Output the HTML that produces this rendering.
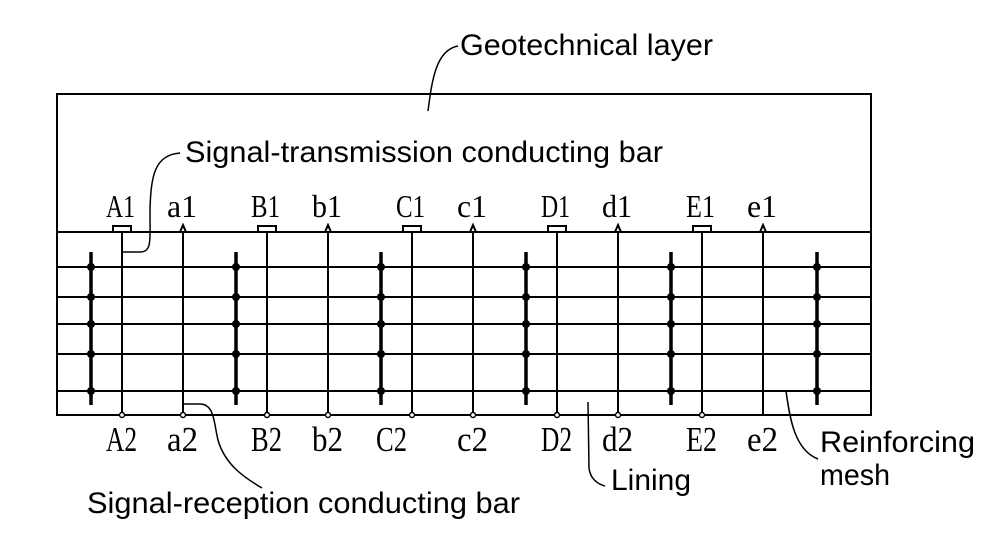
<!DOCTYPE html>
<html><head><meta charset="utf-8"><style>
html,body{margin:0;padding:0;background:#fff;}
svg{display:block;}
.s{font-family:"Liberation Sans",sans-serif;font-size:30px;fill:#000;}
.r{font-family:"Liberation Serif",serif;font-size:32px;fill:#000;}
</style></head><body>
<svg width="995" height="536" viewBox="0 0 995 536" xmlns="http://www.w3.org/2000/svg">
<g stroke="#000" fill="none" stroke-width="2">
<rect x="57" y="94" width="814" height="321"/>
<line x1="57" y1="232" x2="871" y2="232"/>
<line x1="57" y1="267" x2="871" y2="267"/>
<line x1="57" y1="297" x2="871" y2="297"/>
<line x1="57" y1="324" x2="871" y2="324"/>
<line x1="57" y1="354" x2="871" y2="354"/>
<line x1="57" y1="391" x2="871" y2="391"/>
</g>
<g stroke="#000" stroke-width="3.5">
<line x1="91" y1="252" x2="91" y2="405"/>
<line x1="236" y1="252" x2="236" y2="405"/>
<line x1="381" y1="252" x2="381" y2="405"/>
<line x1="526" y1="252" x2="526" y2="405"/>
<line x1="671" y1="252" x2="671" y2="405"/>
<line x1="817" y1="252" x2="817" y2="405"/>
</g>
<g fill="#000">
<g id="dots">
<circle cx="91" cy="267" r="4"/><circle cx="91" cy="297" r="4"/><circle cx="91" cy="324" r="4"/><circle cx="91" cy="354" r="4"/><circle cx="91" cy="391" r="4"/>
</g>
<use href="#dots" x="145"/><use href="#dots" x="290"/><use href="#dots" x="435"/><use href="#dots" x="580"/><use href="#dots" x="726"/>
</g>
<g stroke="#000" stroke-width="2" fill="#fff">
<g id="pair">
<line x1="122" y1="232" x2="122" y2="415"/>
<line x1="183" y1="228" x2="183" y2="415"/>
<rect x="113" y="226" width="18" height="6"/>
<polygon points="180,232 183,225 186,232"/>
</g>
<use href="#pair" x="145"/><use href="#pair" x="290"/><use href="#pair" x="435"/><use href="#pair" x="580"/>
</g>
<g fill="#fff" stroke="#000" stroke-width="1.5">
<circle cx="122" cy="415" r="2.5"/><circle cx="183" cy="415" r="2.5"/>
<circle cx="267" cy="415" r="2.5"/><circle cx="328" cy="415" r="2.5"/>
<circle cx="412" cy="415" r="2.5"/><circle cx="473" cy="415" r="2.5"/>
<circle cx="557" cy="415" r="2.5"/><circle cx="618" cy="415" r="2.5"/>
<circle cx="702" cy="415" r="2.5"/>
</g>
<g stroke="#000" stroke-width="1.5" fill="none">
<path d="M428 111 C432 80 436 50 458 46"/>
<path d="M122 252 L140 252 C152 252 150 240 150 215 C150 175 155 155 180 153"/>
<path d="M183 404 L200 404 C215 404 214 425 218 440 C225 465 245 478 262 488"/>
<path d="M588 402 L589 468 C590 478 597 484 605 486"/>
<path d="M786 391 C790 420 795 450 818 459"/>
</g>
<text class="s" x="460" y="55" textLength="253" lengthAdjust="spacingAndGlyphs">Geotechnical layer</text>
<text class="s" x="185" y="162" textLength="478" lengthAdjust="spacingAndGlyphs">Signal-transmission conducting bar</text>
<text class="s" x="87" y="513" textLength="433" lengthAdjust="spacingAndGlyphs">Signal-reception conducting bar</text>
<text class="s" x="611" y="490" textLength="80" lengthAdjust="spacingAndGlyphs">Lining</text>
<text class="s" x="820" y="452" textLength="155" lengthAdjust="spacingAndGlyphs">Reinforcing</text>
<text class="s" x="820" y="485" textLength="70" lengthAdjust="spacingAndGlyphs">mesh</text>
<g class="r">
<text x="106" y="217" textLength="29" lengthAdjust="spacingAndGlyphs">A1</text>
<text x="167" y="217" textLength="30" lengthAdjust="spacingAndGlyphs">a1</text>
<text x="251" y="217" textLength="29" lengthAdjust="spacingAndGlyphs">B1</text>
<text x="312" y="217" textLength="30" lengthAdjust="spacingAndGlyphs">b1</text>
<text x="396" y="217" textLength="29" lengthAdjust="spacingAndGlyphs">C1</text>
<text x="457" y="217" textLength="30" lengthAdjust="spacingAndGlyphs">c1</text>
<text x="541" y="217" textLength="29" lengthAdjust="spacingAndGlyphs">D1</text>
<text x="602" y="217" textLength="30" lengthAdjust="spacingAndGlyphs">d1</text>
<text x="686" y="217" textLength="29" lengthAdjust="spacingAndGlyphs">E1</text>
<text x="747" y="217" textLength="30" lengthAdjust="spacingAndGlyphs">e1</text>
</g>
<g class="r" style="font-size:35px">
<text x="106" y="451" textLength="31" lengthAdjust="spacingAndGlyphs">A2</text>
<text x="167" y="451" textLength="31" lengthAdjust="spacingAndGlyphs">a2</text>
<text x="251" y="451" textLength="31" lengthAdjust="spacingAndGlyphs">B2</text>
<text x="312" y="451" textLength="31" lengthAdjust="spacingAndGlyphs">b2</text>
<text x="376" y="451" textLength="31" lengthAdjust="spacingAndGlyphs">C2</text>
<text x="457" y="451" textLength="31" lengthAdjust="spacingAndGlyphs">c2</text>
<text x="541" y="451" textLength="31" lengthAdjust="spacingAndGlyphs">D2</text>
<text x="602" y="451" textLength="31" lengthAdjust="spacingAndGlyphs">d2</text>
<text x="686" y="451" textLength="31" lengthAdjust="spacingAndGlyphs">E2</text>
<text x="747" y="451" textLength="31" lengthAdjust="spacingAndGlyphs">e2</text>
</g>
</svg>
</body></html>
